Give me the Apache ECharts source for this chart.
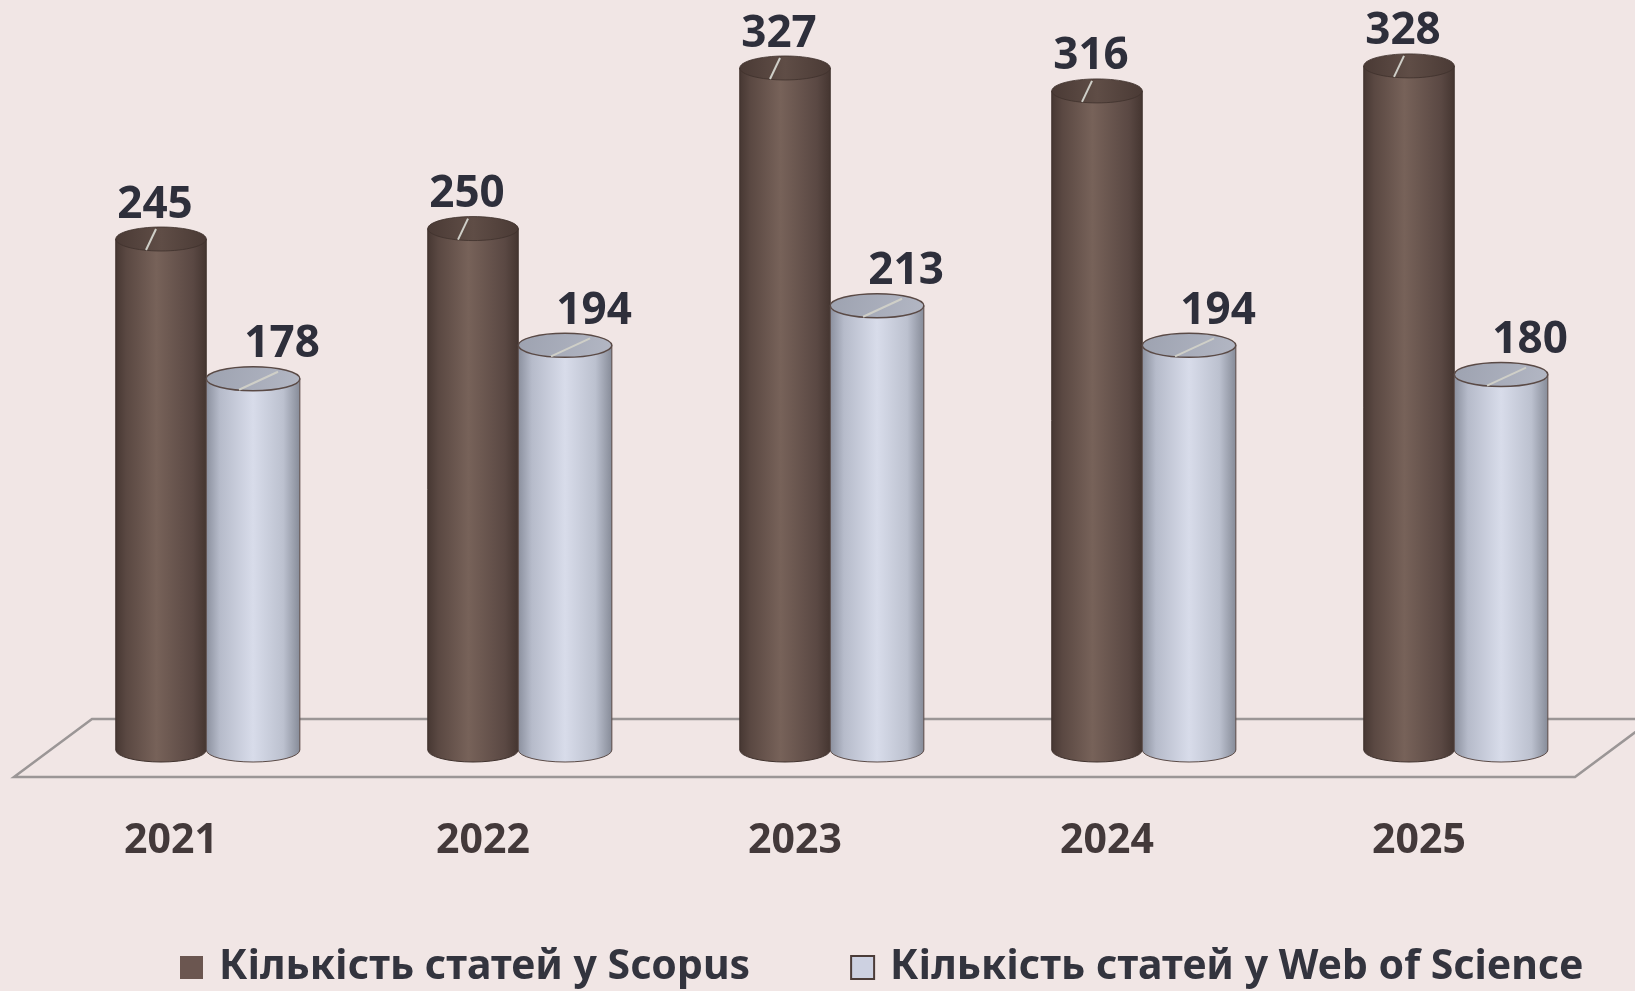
<!DOCTYPE html>
<html>
<head>
<meta charset="utf-8">
<script src="https://cdn.jsdelivr.net/npm/echarts@6/dist/echarts.min.js"></script>
<style>
  html, body { margin: 0; padding: 0; background: #f1e6e5; }
  #chart { width: 1635px; height: 991px; }
</style>
</head>
<body>
<div id="chart"></div>
<script>
// chart data
const years = ['2021', '2022', '2023', '2024', '2025'];
const scopusCounts = [245, 250, 327, 316, 328];
const wosCounts = [178, 194, 213, 194, 180];
const seriesNames = ['Кількість статей у Scopus', 'Кількість статей у Web of Science'];

const GRID_LEFT = 49;
const GRID_RIGHT = 26;
const GRID_BOTTOM = 241;

const chart = echarts.init(document.getElementById('chart'));

const brownBody = {
  type: 'linear', x: 0, y: 0, x2: 1, y2: 0,
  colorStops: [
    { offset: 0, color: '#463732' },
    { offset: 0.12, color: '#5a4842' },
    { offset: 0.45, color: '#776259' },
    { offset: 0.85, color: '#5a4843' },
    { offset: 1, color: '#443530' }
  ]
};
const brownTop = {
  type: 'linear', x: 0, y: 0, x2: 1, y2: 0,
  colorStops: [
    { offset: 0, color: '#4a3a35' },
    { offset: 0.5, color: '#5f4d46' },
    { offset: 1, color: '#4a3a35' }
  ]
};
const blueBody = {
  type: 'linear', x: 0, y: 0, x2: 1, y2: 0,
  colorStops: [
    { offset: 0, color: '#8a8f9d' },
    { offset: 0.15, color: '#b6bbca' },
    { offset: 0.5, color: '#d8dcea' },
    { offset: 0.82, color: '#bcc1cf' },
    { offset: 1, color: '#858a97' }
  ]
};
const blueTop = {
  type: 'linear', x: 0, y: 0, x2: 1, y2: 1,
  colorStops: [
    { offset: 0, color: '#9da2b0' },
    { offset: 1, color: '#b3b7c4' }
  ]
};

// draws one cylinder per data item
function makeCylinder(shiftRatio, widthRatio, bodyFill, topFill, edge, labelDx, lineFrom, lineTo) {
  return function (params, api) {
    const cat = api.value(0);
    const val = api.value(1);
    const top = api.coord([cat, val]);
    const base = api.coord([cat, 0]);
    const band = api.size([1, 0])[0];
    const w = band * widthRatio;
    const cx = top[0] + band * shiftRatio;
    const x0 = cx - w / 2;
    const x1 = cx + w / 2;
    const rx = w / 2;
    const ry = 12;
    const ty = top[1];
    const by = base[1];
    const bodyPath =
      'M' + x0 + ' ' + ty +
      ' L' + x0 + ' ' + by +
      ' A' + rx + ' ' + ry + ' 0 0 0 ' + x1 + ' ' + by +
      ' L' + x1 + ' ' + ty + ' Z';
    return {
      type: 'group',
      children: [
        {
          type: 'path',
          shape: { pathData: bodyPath },
          style: { fill: bodyFill, stroke: edge.body, lineWidth: 1 }
        },
        {
          type: 'ellipse',
          shape: { cx: cx, cy: ty, rx: rx, ry: ry },
          style: { fill: topFill, stroke: edge.top, lineWidth: edge.topWidth }
        },
        {
          type: 'line',
          shape: { x1: cx + lineFrom[0], y1: ty + lineFrom[1], x2: cx + lineTo[0], y2: ty + lineTo[1] },
          style: { stroke: '#cfcfc8', lineWidth: 2 }
        },
        {
          type: 'text',
          style: {
            text: String(val),
            x: cx + labelDx,
            y: ty - 34,
            align: 'center',
            verticalAlign: 'middle',
            fill: '#2e2f3b',
            font: 'bold 44px "Noto Sans", "Open Sans", sans-serif'
          }
        }
      ]
    };
  };
}

const option = {
  backgroundColor: '#f1e6e5',
  animation: false,
  grid: { left: GRID_LEFT, right: GRID_RIGHT, top: 20, bottom: GRID_BOTTOM },
  xAxis: {
    type: 'category',
    data: years,
    axisLine: { show: false },
    axisTick: { show: false },
    axisLabel: {
      margin: 71,
      padding: [0, 68, 0, 0],
      color: '#43393a',
      fontFamily: '"Noto Sans", "Open Sans", sans-serif',
      fontWeight: 'bold',
      fontSize: 41
    }
  },
  yAxis: {
    type: 'value',
    min: 0,
    max: 350,
    show: false,
    splitLine: { show: false }
  },
  legend: {
    left: 175,
    top: 942,
    width: 1450,
    itemWidth: 23,
    itemHeight: 23,
    itemGap: 100,
    icon: 'rect',
    textStyle: {
      color: '#33343e',
      fontFamily: '"Noto Sans", sans-serif',
      fontWeight: 'bold',
      fontSize: 41,
      padding: [0, 0, 0, 11]
    },
    data: [
      { name: seriesNames[0], itemStyle: { color: '#6b5650', borderWidth: 0 } },
      { name: seriesNames[1], itemStyle: { color: '#cdd1e1', borderColor: '#4b3c38', borderWidth: 2 } }
    ]
  },
  graphic: [
    {
      // floor of the 3D plot area
      type: 'polygon',
      z: 0,
      shape: {
        points: [
          [GRID_LEFT - 35, 991 - GRID_BOTTOM + 27],
          [GRID_LEFT + 43, 991 - GRID_BOTTOM - 31],
          [1635 - GRID_RIGHT + 44, 991 - GRID_BOTTOM - 31],
          [1635 - GRID_RIGHT - 34, 991 - GRID_BOTTOM + 27]
        ]
      },
      style: { fill: '#f1e6e5', stroke: '#9b9696', lineWidth: 2.5 }
    }
  ],
  series: [
    {
      name: seriesNames[0],
      type: 'custom',
      itemStyle: { color: '#6b5650' },
      encode: { x: 0, y: 1 },
      data: scopusCounts.map((v, i) => [i, v]),
      renderItem: makeCylinder(-0.141, 0.29, brownBody, brownTop,
        { body: '#3f312c', top: '#3f312c', topWidth: 0.8 },
        -6, [-15, 11], [-5, -10])
    },
    {
      name: seriesNames[1],
      type: 'custom',
      itemStyle: { color: '#cdd1e1' },
      encode: { x: 0, y: 1 },
      data: wosCounts.map((v, i) => [i, v]),
      renderItem: makeCylinder(0.154, 0.3, blueBody, blueTop,
        { body: '#5a4a46', top: '#5a4a46', topWidth: 1.5 },
        29, [-14, 11], [25, -7])
    }
  ]
};

chart.setOption(option);
window.addEventListener('resize', () => chart.resize());
</script>
</body>
</html>
